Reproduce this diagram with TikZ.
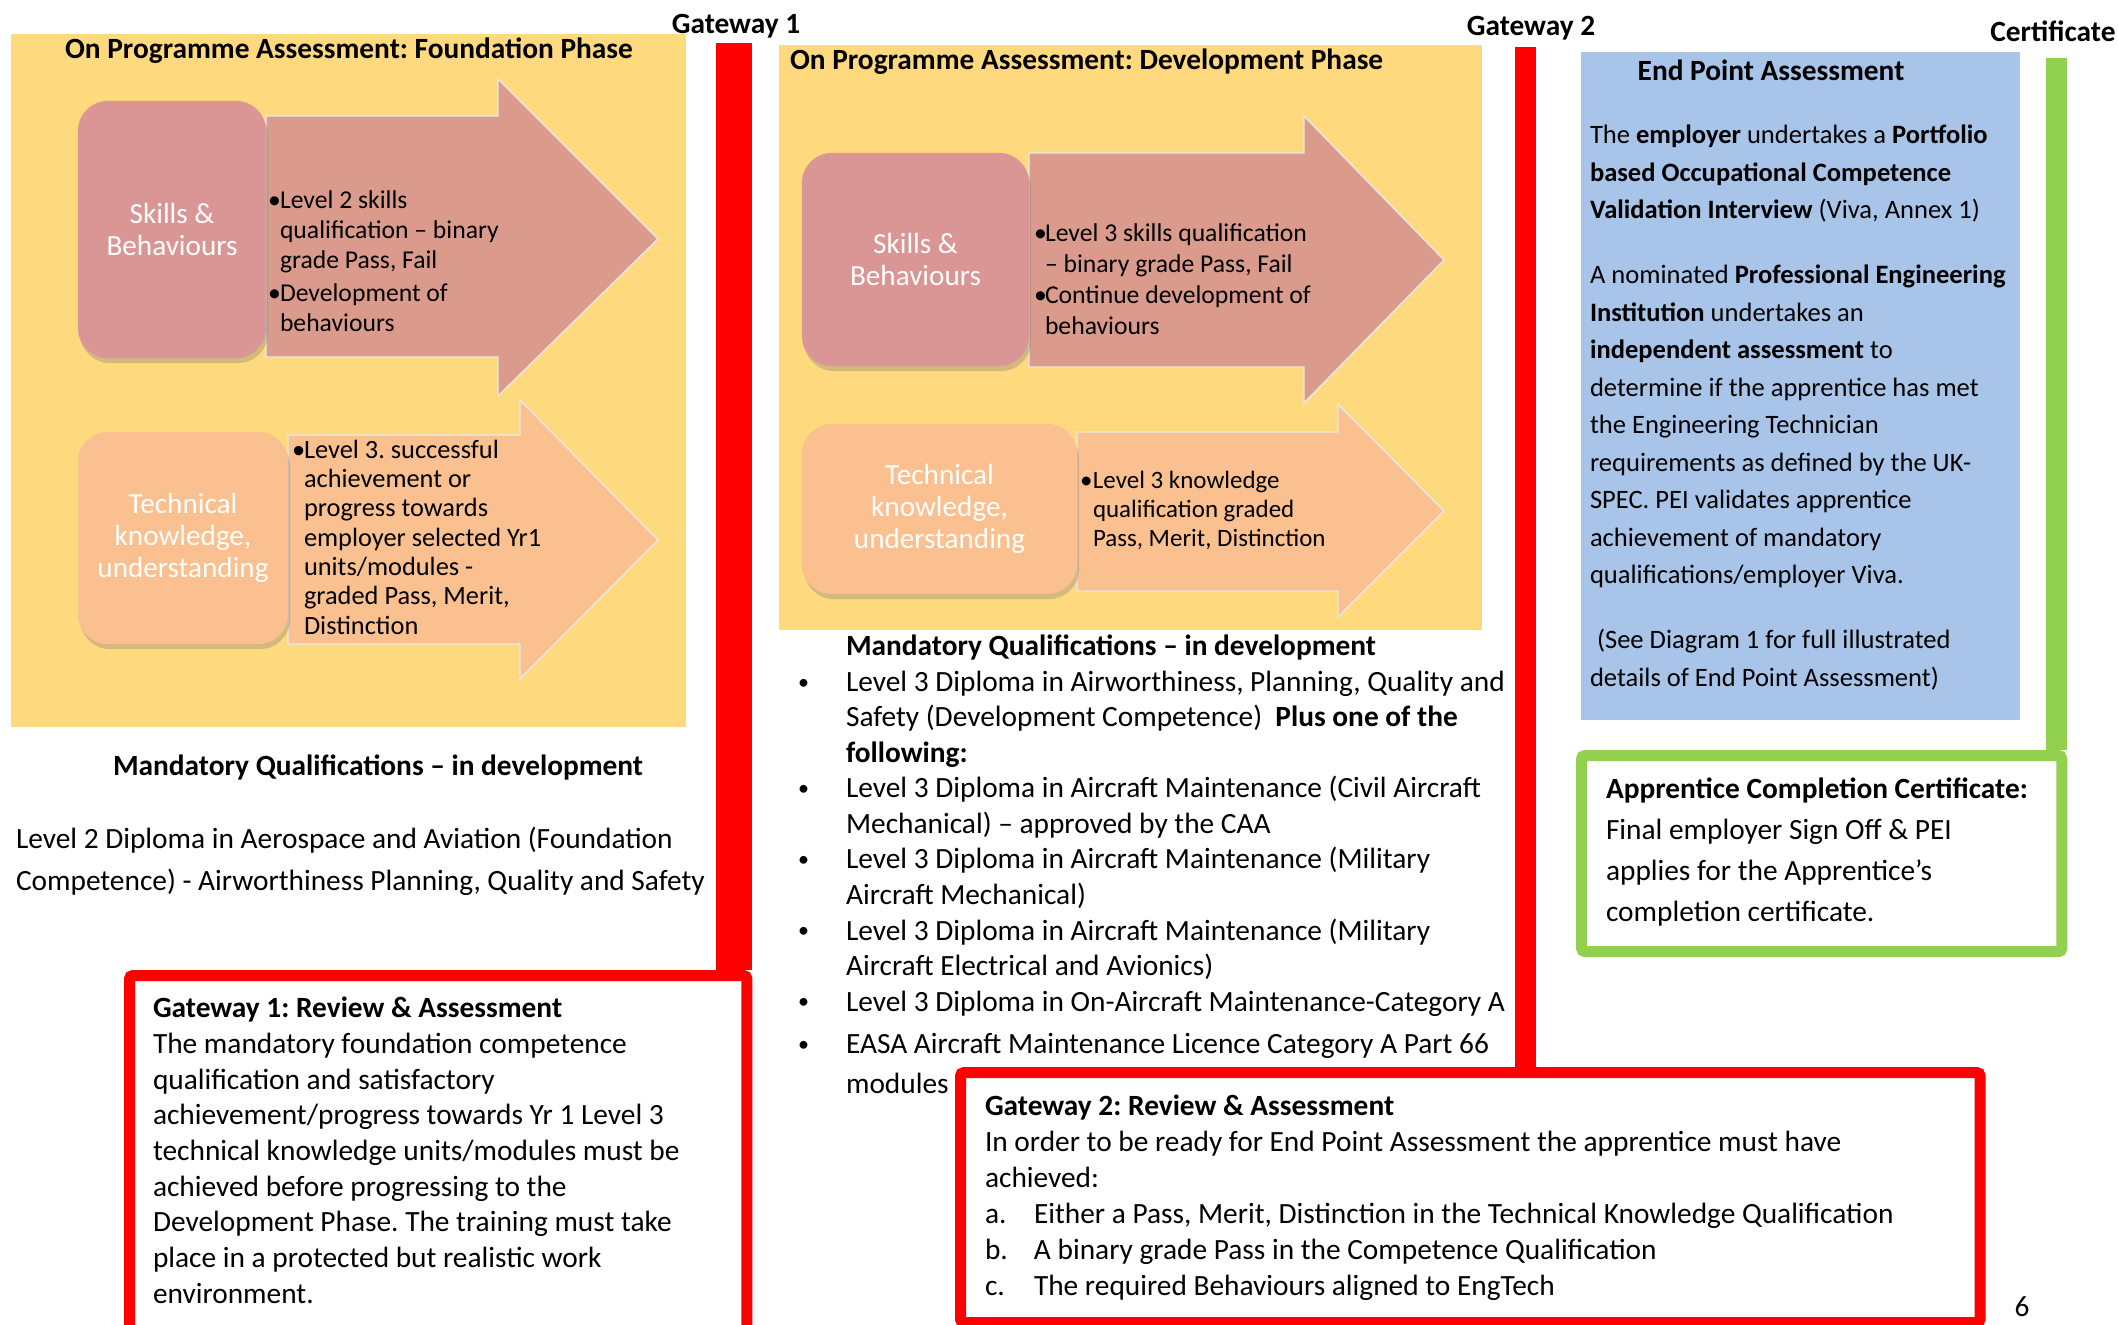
\documentclass[tikz,border=0pt]{standalone}
\usepackage{fontspec}
\setmainfont{Carlito}
\usetikzlibrary{shadows}

\definecolor{panelyellow}{RGB}{255,217,126}
\definecolor{skillrose}{RGB}{217,150,148}
\definecolor{skillarrow}{RGB}{218,155,140}
\definecolor{techpeach}{RGB}{250,192,143}
\definecolor{epablue}{RGB}{168,196,232}
\definecolor{gatered}{RGB}{255,0,0}
\definecolor{certgreen}{RGB}{146,208,80}

\newcommand{\bul}[1]{\makebox[#1][l]{•}}
\newcommand{\listbul}{\makebox[0.44cm][l]{\hspace*{-0.04cm}\raisebox{0.15ex}{\scalebox{0.75}{•}}}}

\begin{document}
\frenchspacing
\begin{tikzpicture}[x=0.01cm, y=-0.01cm, line join=miter,
	every node/.style={inner sep=0pt, outer sep=0pt},
	txt/.style={anchor=north west, align=left},
	heading/.style={font=\bfseries\fontsize{8.35}{10}\selectfont},
	catbox/.style={rounded corners=0.3cm, text=white, align=center, font=\fontsize{8.3}{9.1}\selectfont,
		drop shadow={opacity=0.35, shadow xshift=0.02cm, shadow yshift=-0.05cm}},
	bigarrow/.style={draw=white!82!gray, line width=0.4pt},
	gateframe/.style={draw=gatered, line width=0.11cm, fill=white, rounded corners=1pt, outer sep=0.055cm},
	certframe/.style={draw=certgreen, line width=0.11cm, fill=white, rounded corners=1pt, outer sep=0.055cm}]
	
	\useasboundingbox (0,0) rectangle (2118,1324);
	\clip (0,0) rectangle (2118,1324);
	
	% Phase panels
	\fill[panelyellow] (11,34) rectangle (686,727);
	\fill[panelyellow] (779,45) rectangle (1482,630);
	\fill[epablue] (1581,52) rectangle (2020,720);
	
	% Foundation phase
	\node[heading] (ftitle) at (349,51) {On Programme Assessment: Foundation Phase};
	\filldraw[bigarrow, fill=skillarrow] (266,116) -- (498,116) -- (498,79) -- (658,239) -- (498,396) -- (498,357) -- (266,357) -- cycle;
	\filldraw[bigarrow, fill=techpeach] (288,435) -- (520,435) -- (520,400) -- (658,540) -- (520,679) -- (520,644) -- (288,644) -- cycle;
	\node[catbox, fill=skillrose, minimum width=1.88cm, minimum height=2.57cm] (fskill) at (172,229.5) {Skills \&\\Behaviours};
	\node[catbox, fill=techpeach, minimum width=2.10cm, minimum height=2.12cm] (ftech) at (183,538) {Technical\\knowledge,\\understanding};
	\node[txt, font=\fontsize{7.3}{8.5}\selectfont] (fskilltxt) at (268,191) {\bul{0.12cm}Level 2 skills\\\hspace*{0.12cm}qualification – binary\\\hspace*{0.12cm}grade Pass, Fail\\[0.8pt]\bul{0.12cm}Development of\\\hspace*{0.12cm}behaviours};
	\node[txt, font=\fontsize{7.5}{8.34}\selectfont] (ftechtxt) at (292,440) {\bul{0.12cm}Level 3. successful\\\hspace*{0.12cm}achievement or\\\hspace*{0.12cm}progress towards\\\hspace*{0.12cm}employer selected Yr1\\\hspace*{0.12cm}units/modules -\\\hspace*{0.12cm}graded Pass, Merit,\\\hspace*{0.12cm}Distinction};
	
	% Development phase
	\node[heading, anchor=west] (dtitle) at (790,62) {On Programme Assessment: Development Phase};
	\filldraw[bigarrow, fill=skillarrow] (1029,153) -- (1304,153) -- (1304,116) -- (1444,260) -- (1304,403) -- (1304,367) -- (1029,367) -- cycle;
	\filldraw[bigarrow, fill=techpeach] (1077,432) -- (1338,432) -- (1338,404) -- (1444,511) -- (1338,617) -- (1338,591) -- (1077,591) -- cycle;
	\node[catbox, fill=skillrose, minimum width=2.27cm, minimum height=2.13cm] (dskill) at (915.5,259.5) {Skills \&\\Behaviours};
	\node[catbox, fill=techpeach, minimum width=2.75cm, minimum height=1.70cm] (dtech) at (939.5,509) {Technical\\knowledge,\\understanding};
	\node[txt, font=\fontsize{7.3}{8.8}\selectfont] (dskilltxt) at (1034,224) {\bul{0.11cm}Level 3 skills qualification\\\hspace*{0.11cm}– binary grade Pass, Fail\\\bul{0.11cm}Continue development of\\\hspace*{0.11cm}behaviours};
	\node[txt, font=\fontsize{7.1}{8.3}\selectfont] (dtechtxt) at (1080,471) {\bul{0.13cm}Level 3 knowledge\\\hspace*{0.13cm}qualification graded\\\hspace*{0.13cm}Pass, Merit, Distinction};
	
	% Mandatory qualifications
	\node[heading] (fmand) at (378,767) {Mandatory Qualifications – in development};
	\node[txt, font=\fontsize{8.35}{11.95}\selectfont] (fqual) at (16,827) {Level 2 Diploma in Aerospace and Aviation (Foundation\\Competence) - Airworthiness Planning, Quality and Safety};
	\node[heading, anchor=west] (dmand) at (846,647) {Mandatory Qualifications – in development};
	\node[txt, font=\fontsize{8.35}{10.1}\selectfont] (dqual) at (802,671) {\listbul Level 3 Diploma in Airworthiness, Planning, Quality and\\
		\hspace*{0.44cm}Safety (Development Competence)\ \ \textbf{Plus one of the}\\
		\hspace*{0.44cm}\textbf{following:}\\
		\listbul Level 3 Diploma in Aircraft Maintenance (Civil Aircraft\\
		\hspace*{0.44cm}Mechanical) – approved by the CAA\\
		\listbul Level 3 Diploma in Aircraft Maintenance (Military\\
		\hspace*{0.44cm}Aircraft Mechanical)\\
		\listbul Level 3 Diploma in Aircraft Maintenance (Military\\
		\hspace*{0.44cm}Aircraft Electrical and Avionics)\\
		\listbul Level 3 Diploma in On-Aircraft Maintenance-Category A\\[1.9pt]
		\listbul EASA Aircraft Maintenance Licence Category A Part 66\\[1.3pt]
		\hspace*{0.44cm}modules};
	
	% End point assessment
	\node[heading] (epatitle) at (1771,70) {End Point Assessment};
	\node[txt, font=\fontsize{7.55}{10.67}\selectfont] (epatxt) at (1590,125) {The \textbf{employer} undertakes a \textbf{Portfolio}\\
		\textbf{based Occupational Competence}\\
		\textbf{Validation Interview} (Viva, Annex 1)\\[7.8pt]
		A nominated \textbf{Professional Engineering}\\
		\textbf{Institution} undertakes an\\
		\textbf{independent assessment} to\\
		determine if the apprentice has met\\
		the Engineering Technician\\
		requirements as defined by the UK-\\
		SPEC. PEI validates apprentice\\
		achievement of mandatory\\
		qualifications/employer Viva.\\[7.8pt]
		\hspace*{0.07cm}(See Diagram 1 for full illustrated\\
		details of End Point Assessment)};
	
	% Gateways and certificate
	\node[heading] (gw1label) at (736,26) {Gateway 1};
	\node[heading] (gw2label) at (1531,28) {Gateway 2};
	\node[heading] (certlabel) at (2053,31) {Certificate};
	
	\node[gateframe, anchor=north west, minimum width=6.17cm, minimum height=4cm] (gw1box) at (124,970) {};
	\fill[gatered] (716,43) rectangle (gw1box.north east);
	\node[txt, font=\fontsize{8.35}{10.16}\selectfont] (gw1txt) at (153,997) {\textbf{Gateway 1: Review \& Assessment}\\
		The mandatory foundation competence\\
		qualification and satisfactory\\
		achievement/progress towards Yr 1 Level 3\\
		technical knowledge units/modules must be\\
		achieved before progressing to the\\
		Development Phase. The training must take\\
		place in a protected but realistic work\\
		environment.};
	
	\node[gateframe, anchor=north west, minimum width=10.19cm, minimum height=2.50cm] (gw2box) at (955,1067) {};
	\fill[gatered] (1515,47) rectangle (1536,0 |- gw2box.north);
	\node[txt, font=\fontsize{8.35}{10.24}\selectfont] (gw2txt) at (985,1095) {\textbf{Gateway 2: Review \& Assessment}\\
		In order to be ready for End Point Assessment the apprentice must have\\
		achieved:\\
		\makebox[0.49cm][l]{a.}Either a Pass, Merit, Distinction in the Technical Knowledge Qualification\\
		\makebox[0.49cm][l]{b.}A binary grade Pass in the Competence Qualification\\
		\makebox[0.49cm][l]{c.}The required Behaviours aligned to EngTech};
	
	\node[certframe, anchor=north west, minimum width=4.80cm, minimum height=1.96cm] (certbox) at (1576,750) {};
	\fill[certgreen] (2046,58) rectangle (certbox.north east);
	\node[txt, font=\fontsize{8.35}{11.66}\selectfont] (certtxt) at (1606,778) {\textbf{Apprentice Completion Certificate:}\\
		Final employer Sign Off \& PEI\\
		applies for the Apprentice's\\
		completion certificate.};
	
	\node[font=\fontsize{8.35}{10}\selectfont] (pagenum) at (2022,1307) {6};
\end{tikzpicture}
\end{document}
